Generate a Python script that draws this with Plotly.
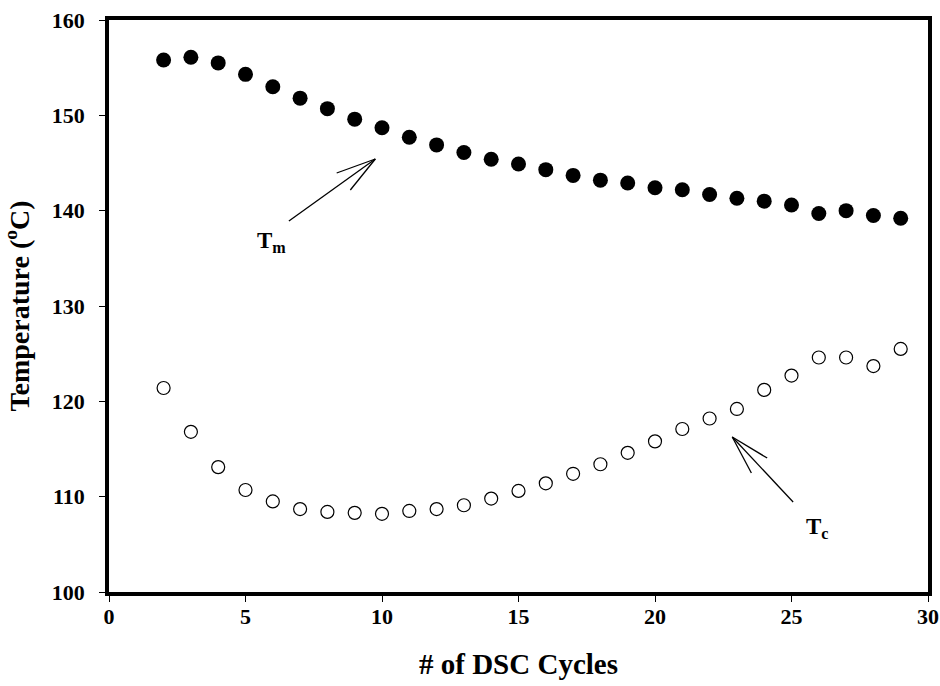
import plotly.graph_objects as go

cycles = list(range(2, 30))
tm_values = [155.8, 156.1, 155.5, 154.3, 153.0, 151.8, 150.7, 149.6, 148.7, 147.7,
             146.9, 146.1, 145.4, 144.9, 144.3, 143.7, 143.2, 142.9, 142.4, 142.2,
             141.7, 141.3, 141.0, 140.6, 139.7, 140.0, 139.5, 139.2]
tc_values = [121.4, 116.8, 113.1, 110.7, 109.5, 108.7, 108.4, 108.3, 108.2, 108.5,
             108.7, 109.1, 109.8, 110.6, 111.4, 112.4, 113.4, 114.6, 115.8, 117.1,
             118.2, 119.2, 121.2, 122.7, 124.6, 124.6, 123.7, 125.5]
x_ticks = [0, 5, 10, 15, 20, 25, 30]
y_ticks = [100, 110, 120, 130, 140, 150, 160]

FONT = "Liberation Serif"

fig = go.Figure()
fig.add_trace(go.Scatter(x=cycles, y=tm_values, mode="markers", name="Tm",
                         marker=dict(size=15, color="black", symbol="circle")))
fig.add_trace(go.Scatter(x=cycles, y=tc_values, mode="markers", name="Tc",
                         marker=dict(size=13, color="white", symbol="circle",
                                     line=dict(color="black", width=1.2))))

# arrows (shaft + two barbs) in data coordinates
arrows = [
    dict(tail=(6.59, 138.92), tip=(9.755, 145.42), barbs=[(8.34, 143.95), (8.84, 142.17)]),
    dict(tail=(25.06, 109.44), tip=(22.83, 116.26), barbs=[(24.11, 114.05), (23.53, 112.48)]),
]
for a in arrows:
    segs = [(a["tail"], a["tip"])] + [(b, a["tip"]) for b in a["barbs"]]
    for (x0, y0), (x1, y1) in segs:
        fig.add_shape(type="line", xref="x", yref="y", x0=x0, y0=y0, x1=x1, y1=y1,
                      line=dict(color="black", width=1.3))

fig.add_annotation(x=5.96, y=136.7, text="<b>T<sub style='font-size:22px'>m</sub></b>",
                   showarrow=False, font=dict(family=FONT, size=23, color="black"))
fig.add_annotation(x=25.94, y=106.7, text="<b>T<sub style='font-size:23px'>c</sub></b>",
                   showarrow=False, font=dict(family=FONT, size=23, color="black"))

axis_common = dict(showgrid=False, zeroline=False, showline=True, linecolor="black",
                   linewidth=3.5, mirror=True, ticks="outside", ticklen=6, tickwidth=1,
                   tickcolor="black", automargin=False, ticklabeloverflow="allow")

fig.update_xaxes(range=[0, 30], tickvals=x_ticks, ticktext=[f"<b>{v}</b>" for v in x_ticks],
                 tickfont=dict(family=FONT, size=22, color="black"),
                 ticklabelstandoff=-4,
                 title=dict(text="<b># of DSC Cycles</b>", standoff=27,
                            font=dict(family=FONT, size=29, color="black")),
                 **axis_common)
fig.update_yaxes(range=[100, 160], tickvals=y_ticks, ticktext=[f"<b>{v}</b>" for v in y_ticks],
                 tickfont=dict(family=FONT, size=22, color="black"),
                 ticklabelstandoff=10,
                 title=dict(text="<b>Temperature (<sup>o</sup>C)</b>", standoff=28,
                            font=dict(family=FONT, size=28, color="black")),
                 **axis_common)

fig.update_layout(width=940, height=686, showlegend=False,
                  plot_bgcolor="white", paper_bgcolor="white",
                  margin=dict(l=109, r=12, t=20, b=94))

fig.write_html("out.html", config={"displayModeBar": False},
               post_script="document.body.style.margin='0';document.body.style.overflow='hidden';")
